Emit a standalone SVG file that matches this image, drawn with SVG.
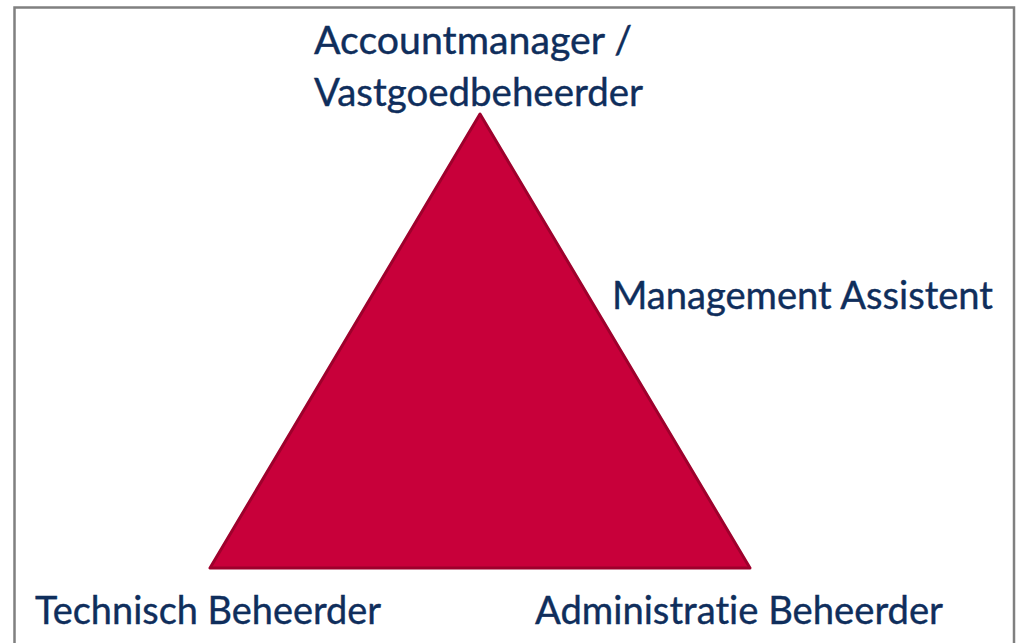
<svg xmlns="http://www.w3.org/2000/svg" width="1019" height="643" viewBox="0 0 1019 643">
<style>
.lbl{font-family:Lato,"Open Sans","Liberation Sans",sans-serif;font-size:39px;fill:#0F2E5C;font-variant-ligatures:none;font-feature-settings:"liga" 0;stroke:#0F2E5C;stroke-width:0.4px}
</style>
<rect x="0" y="0" width="1019" height="643" fill="#ffffff"/>
<rect id="frame" x="14.5" y="7.5" width="999.5" height="650" fill="none" stroke="#808080" stroke-width="2.5"/>
<g id="triangle">
<polygon points="480,114 210,568 750,568" fill="#C8003A" stroke="#9E002C" stroke-width="3" stroke-linejoin="round"/>
</g>
<g id="node-top">
<text class="lbl" x="314" y="54" textLength="318" lengthAdjust="spacingAndGlyphs">Accountmanager /</text>
<text class="lbl" x="314" y="106" textLength="329" lengthAdjust="spacingAndGlyphs">Vastgoedbeheerder</text>
</g>
<g id="node-right">
<text class="lbl" x="612" y="309" textLength="381" lengthAdjust="spacingAndGlyphs">Management Assistent</text>
</g>
<g id="node-left">
<text class="lbl" x="35" y="624" textLength="346" lengthAdjust="spacingAndGlyphs">Technisch Beheerder</text>
</g>
<g id="node-bottom-right">
<text class="lbl" x="535" y="624" textLength="408" lengthAdjust="spacingAndGlyphs">Administratie Beheerder</text>
</g>
<g id="connectors"></g>
</svg>
